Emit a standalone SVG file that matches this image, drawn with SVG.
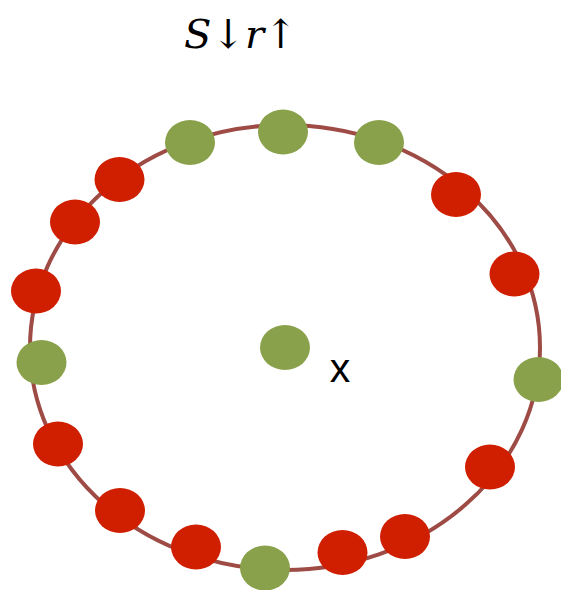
<svg xmlns="http://www.w3.org/2000/svg" width="561" height="590" viewBox="0 0 561 590">
<style>
.g{fill:#8AA14B}
.r{fill:#CF1E00}
.ring{fill:none;stroke:#9E4B45;stroke-width:4}
.t{font-family:"DejaVu Serif",serif;font-style:italic;font-size:40px;fill:#000}
.x{font-family:"Liberation Sans","DejaVu Sans",sans-serif;font-size:41px;fill:#000}
</style>
<rect width="561" height="590" fill="#fff"/>
<g id="title"><text class="t" x="184" y="48">S↓r↑</text></g>
<g id="connectors">
<ellipse class="ring" cx="285" cy="347.5" rx="255" ry="222.5"/>
</g>
<g id="n1"><ellipse class="g" cx="190" cy="142.5" rx="25" ry="22.5"/></g>
<g id="n2"><ellipse class="g" cx="283" cy="132" rx="25" ry="22.5"/></g>
<g id="n3"><ellipse class="g" cx="379" cy="142.5" rx="25" ry="22.5"/></g>
<g id="n4"><ellipse class="r" cx="456" cy="194.5" rx="25" ry="22.5"/></g>
<g id="n5"><ellipse class="r" cx="514.5" cy="274" rx="25" ry="22.5"/></g>
<g id="n6"><ellipse class="g" cx="538.5" cy="379.5" rx="25" ry="22.5"/></g>
<g id="n7"><ellipse class="r" cx="490" cy="467" rx="25" ry="22.5"/></g>
<g id="n8"><ellipse class="r" cx="405" cy="536.5" rx="25" ry="22.5"/></g>
<g id="n9"><ellipse class="r" cx="342.5" cy="552.5" rx="25" ry="22.5"/></g>
<g id="n10"><ellipse class="g" cx="265" cy="568" rx="25" ry="22.5"/></g>
<g id="n11"><ellipse class="r" cx="196" cy="547" rx="25" ry="22.5"/></g>
<g id="n12"><ellipse class="r" cx="120" cy="510.5" rx="25" ry="22.5"/></g>
<g id="n13"><ellipse class="r" cx="58" cy="444" rx="25" ry="22.5"/></g>
<g id="n14"><ellipse class="g" cx="41.5" cy="362.5" rx="25" ry="22.5"/></g>
<g id="n15"><ellipse class="r" cx="36" cy="291" rx="25" ry="22.5"/></g>
<g id="n16"><ellipse class="r" cx="75" cy="222" rx="25" ry="22.5"/></g>
<g id="n17"><ellipse class="r" cx="119.5" cy="179.5" rx="25" ry="22.5"/></g>
<g id="center"><ellipse class="g" cx="285" cy="347.5" rx="25" ry="22.5"/></g>
<g id="label-x"><text class="x" x="340" y="382" text-anchor="middle">x</text></g>
</svg>
